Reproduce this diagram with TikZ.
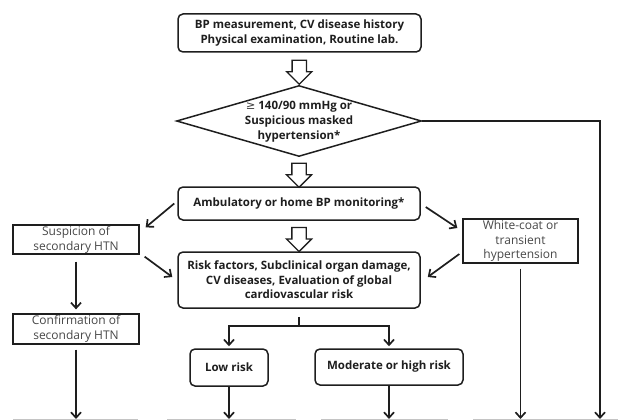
\documentclass[tikz,border=0pt]{standalone}
\usepackage{fontspec}
\setmainfont{Open Sans}
\newfontfamily\symfont{DejaVu Sans}
\usetikzlibrary{arrows.meta,positioning,shapes.geometric,shapes.arrows,calc}
\definecolor{ink}{HTML}{1E1E1E}
\definecolor{soft}{HTML}{474747}
\definecolor{cutedge}{HTML}{C4C4C4}

\begin{document}
\begin{tikzpicture}[
  x=1pt, y=-1pt,
  font=\fontsize{11.5}{14.5}\selectfont,
  >={Straight Barb[length=5.5pt,width=10pt]},
  flow/.style={->, draw=ink, line width=1.7pt},
  boldbox/.style={rounded corners=5pt, draw=ink, line width=1.5pt, align=center,
                  font=\fontsize{11.5}{14.5}\selectfont\bfseries, text=ink, inner sep=1pt},
  plainbox/.style={draw=ink, line width=1.3pt, align=center, text=soft, inner sep=0pt,
                   font=\fontsize{12}{14.8}\selectfont},
  hollow/.style={single arrow, draw=ink, line width=1.3pt, shape border rotate=270,
                 minimum height=24pt, minimum width=24pt, single arrow head extend=5.5pt,
                 inner sep=6.5pt},
  cutbox/.style={draw=cutedge, line width=0.9pt, minimum height=30pt, anchor=north, inner sep=0pt}
]
\useasboundingbox (0,0) rectangle (618,420);

% Tronco central.
\node[boldbox, minimum width=243pt, minimum height=38pt] (exam) at (299.5,33)
      {BP measurement, CV disease history\\Physical examination, Routine lab.};
\node[diamond, draw=ink, line width=1.5pt, minimum width=245pt, minimum height=71pt,
      inner sep=0pt] (cond) at (299,121) {};
\node[align=center, font=\fontsize{11.5}{14.8}\selectfont\bfseries, text=ink] (condtext) at (299,122)
      {{\symfont\mdseries\color{soft}≥} 140/90 mmHg or\\Suspicious masked\\hypertension*};
\node[boldbox, minimum width=242pt, minimum height=33pt] (amb) at (299,203.5)
      {Ambulatory or home BP monitoring*};
\node[boldbox, minimum width=242pt, minimum height=56pt] (risk) at (299,280)
      {Risk factors, Subclinical organ damage,\\CV diseases, Evaluation of global\\cardiovascular risk};

\node[hollow] (down1) at ($(exam.south)!0.5!(cond.north)$) {};
\node[hollow] (down2) at ($(cond.south)!0.5!(amb.north)$) {};
\node[hollow] (down3) at ($(amb.south)!0.5!(risk.north)$) {};

% Ramas laterales.
\node[plainbox, minimum width=126pt, minimum height=29pt] (susp) at (76,239.5)
      {Suspicion of\\secondary HTN};
\node[plainbox, minimum width=126pt, minimum height=30pt] (conf) at (76,329)
      {Confirmation of\\secondary HTN};
\node[plainbox, minimum width=115pt, minimum height=44pt] (wcoat) at (520.5,241)
      {White-coat or\\transient\\hypertension};

\node[boldbox, minimum width=78pt, minimum height=37pt] (low) at (229,367.5) {Low risk};
\node[boldbox, minimum width=148pt, minimum height=36pt] (mod) at (389,367) {Moderate or high risk};

% Cajas siguientes, cortadas por el borde.
\node[cutbox, minimum width=124pt] (next1) at (75,419) {};
\node[cutbox, minimum width=128pt] (next2) at (231,419) {};
\node[cutbox, minimum width=126pt] (next3) at (384,419) {};
\node[cutbox, minimum width=166pt] (next4) at (556,419) {};
\coordinate (rdrop) at (600,419);

\draw[flow] ($(amb.west)+(-3,0)$) -- ($(susp.north east)+(6,3)$);
\draw[flow] ($(susp.south east)+(5,2)$) -- ($(risk.west)+(-5,-3)$);
\draw[flow] ($(amb.east)+(5,3.5)$) -- ($(wcoat.west)+(-5,-13)$);
\draw[flow] ($(wcoat.west)+(-3,13)$) -- ($(risk.east)+(7,-3)$);
\draw[flow, shorten <=7pt, shorten >=4pt] (susp) -- (conf);

\coordinate (fork) at ($(risk.south)+(0,17)$);
\draw[ink, line width=1.7pt, shorten <=8pt] (risk.south) -- (fork);
\draw[flow, shorten >=2pt] (fork) -| (low);
\draw[flow, shorten >=2pt] (fork) -| (mod);

\draw[flow, shorten <=5pt] (conf) -- (conf |- next1.north);
\draw[flow] (low) -- (low |- next2.north);
\draw[flow] (mod) -- (mod |- next3.north);
\draw[flow, shorten <=5pt] (wcoat) -- (wcoat |- next4.north);
\draw[flow] (cond.east) -| (rdrop);

\end{tikzpicture}
\end{document}
